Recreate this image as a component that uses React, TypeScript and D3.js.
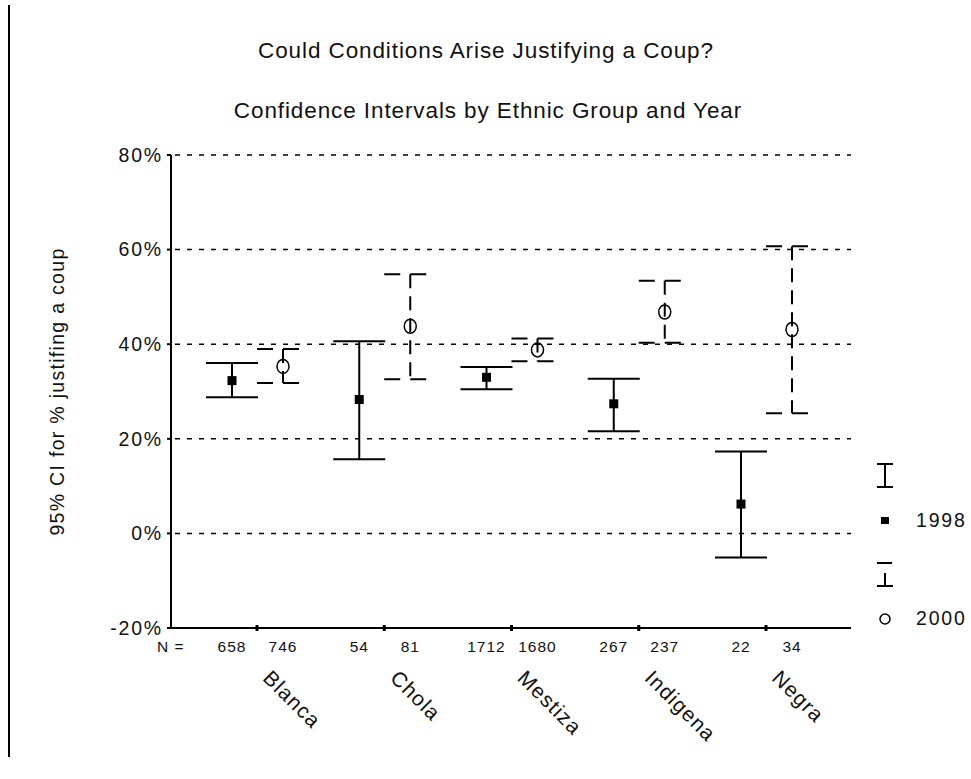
import * as d3 from "d3";

const categories = ["Blanca", "Chola", "Mestiza", "Indigena", "Negra"];
const years = ["1998", "2000"];
const n1998 = [658, 54, 1712, 267, 22];
const n2000 = [746, 81, 1680, 237, 34];
const mean1998 = [32.3, 28.3, 33.0, 27.4, 6.2];
const lo1998 = [28.8, 15.7, 30.5, 21.6, -5.1];
const hi1998 = [36.0, 40.6, 35.2, 32.7, 17.3];
const mean2000 = [35.3, 43.8, 38.8, 46.8, 43.1];
const lo2000 = [31.8, 32.6, 36.4, 40.3, 25.4];
const hi2000 = [39.0, 54.8, 41.2, 53.4, 60.7];
const yTicks = [-20, 0, 20, 40, 60, 80];

const width = 971;
const height = 779;
const font = "'Liberation Sans', Arial, sans-serif";

export default function App() {
  const y = d3.scaleLinear([-20, 80], [628, 155]);
  const x = d3.scalePoint(categories, [257, 766]);
  const off = { "1998": -25, "2000": 26 };
  const axisLeft = 171;
  const axisRight = 851;

  const rows = categories.map((c, i) => ({
    c,
    a: { n: n1998[i], m: mean1998[i], lo: lo1998[i], hi: hi1998[i] },
    b: { n: n2000[i], m: mean2000[i], lo: lo2000[i], hi: hi2000[i] },
  }));

  return (
    <svg
      width={width}
      height={height}
      style={{ position: "absolute", left: 0, top: 0, background: "#fff" }}
      fontFamily={font}
    >
      <line x1={9} x2={9} y1={5} y2={757} stroke="#000" strokeWidth={2} />

      <g fontSize={22.5} letterSpacing={0.9} fill="#111" textAnchor="middle">
        <text x={486} y={58}>Could Conditions Arise Justifying a Coup?</text>
        <text x={488} y={118}>Confidence Intervals by Ethnic Group and Year</text>
      </g>

      {/* grid */}
      <g stroke="#000" strokeWidth={1.5} strokeDasharray="5,7">
        {yTicks.filter((t) => t > -20).map((t) => (
          <line key={t} x1={axisLeft + 4} x2={axisRight} y1={y(t)} y2={y(t)} />
        ))}
      </g>

      {/* y axis */}
      <line x1={axisLeft} x2={axisLeft} y1={y(80)} y2={y(-20)} stroke="#000" strokeWidth={2} />
      {yTicks.map((t) => (
        <g key={t}>
          <line x1={axisLeft - 4} x2={axisLeft} y1={y(t)} y2={y(t)} stroke="#000" strokeWidth={2} />
          <text x={163} y={y(t)} dy="0.35em" textAnchor="end" fontSize={19.5} letterSpacing={1.8} fill="#111">
            {t + "%"}
          </text>
        </g>
      ))}
      <text
        transform={`translate(64,${y(30)}) rotate(-90)`}
        textAnchor="middle"
        fontSize={19.5}
        letterSpacing={1.3}
        fill="#111"
      >
        95% CI for % justifing a coup
      </text>

      {/* x axis */}
      <line x1={axisLeft} x2={axisRight} y1={y(-20)} y2={y(-20)} stroke="#000" strokeWidth={2} />
      {categories.map((c) => (
        <rect key={c} x={(x(c) as number) - 1.5} y={y(-20) - 3} width={3} height={6} fill="#000" />
      ))}
      <g fontSize={15.5} letterSpacing={1} fill="#111">
        <text x={157} y={652}>N =</text>
        {rows.map((r) => (
          <g key={r.c} textAnchor="middle">
            <text x={(x(r.c) as number) + off["1998"]} y={652}>{r.a.n}</text>
            <text x={(x(r.c) as number) + off["2000"]} y={652}>{r.b.n}</text>
          </g>
        ))}
      </g>
      {categories.map((c) => (
        <text
          key={c}
          transform={`translate(${(x(c) as number) + 16},${668}) rotate(45)`}
          fontSize={21}
          letterSpacing={1.2}
          fill="#111"
          dy="0.75em"
        >
          {c}
        </text>
      ))}

      {/* 1998 error bars */}
      {rows.map((r) => {
        const cx = (x(r.c) as number) + off["1998"];
        return (
          <g key={r.c} stroke="#000" strokeWidth={2}>
            <line x1={cx} x2={cx} y1={y(r.a.hi)} y2={y(r.a.lo)} />
            <line x1={cx - 26} x2={cx + 26} y1={y(r.a.hi)} y2={y(r.a.hi)} />
            <line x1={cx - 26} x2={cx + 26} y1={y(r.a.lo)} y2={y(r.a.lo)} />
            <rect x={cx - 4.5} y={y(r.a.m) - 4.5} width={9} height={9} fill="#000" stroke="none" />
          </g>
        );
      })}

      {/* 2000 error bars */}
      {rows.map((r) => {
        const cx = (x(r.c) as number) + off["2000"];
        return (
          <g key={r.c} stroke="#000" strokeWidth={2} fill="none">
            <line x1={cx} x2={cx} y1={y(r.b.hi)} y2={y(r.b.lo)} strokeDasharray="14,8" />
            <line x1={cx - 26} x2={cx + 16} y1={y(r.b.hi)} y2={y(r.b.hi)} strokeDasharray="16,10" />
            <line x1={cx - 26} x2={cx + 16} y1={y(r.b.lo)} y2={y(r.b.lo)} strokeDasharray="16,10" />
            <ellipse cx={cx} cy={y(r.b.m)} rx={6} ry={7} strokeWidth={1.5} />
          </g>
        );
      })}

      {/* legend */}
      <g stroke="#000" strokeWidth={2} fill="none">
        <line x1={885} x2={885} y1={464} y2={487} />
        <line x1={877} x2={893} y1={464} y2={464} />
        <line x1={877} x2={893} y1={487} y2={487} />
        <rect x={881} y={517} width={8} height={7} fill="#000" stroke="none" />
        <line x1={885} x2={885} y1={573} y2={586} />
        <line x1={877} x2={892} y1={563} y2={563} />
        <line x1={877} x2={893} y1={586} y2={586} />
        <ellipse cx={885} cy={619} rx={5} ry={5} strokeWidth={1.5} />
      </g>
      <g fontSize={19.5} letterSpacing={1.8} fill="#111">
        <text x={916} y={520} dy="0.35em">{years[0]}</text>
        <text x={916} y={618} dy="0.35em">{years[1]}</text>
      </g>
    </svg>
  );
}
